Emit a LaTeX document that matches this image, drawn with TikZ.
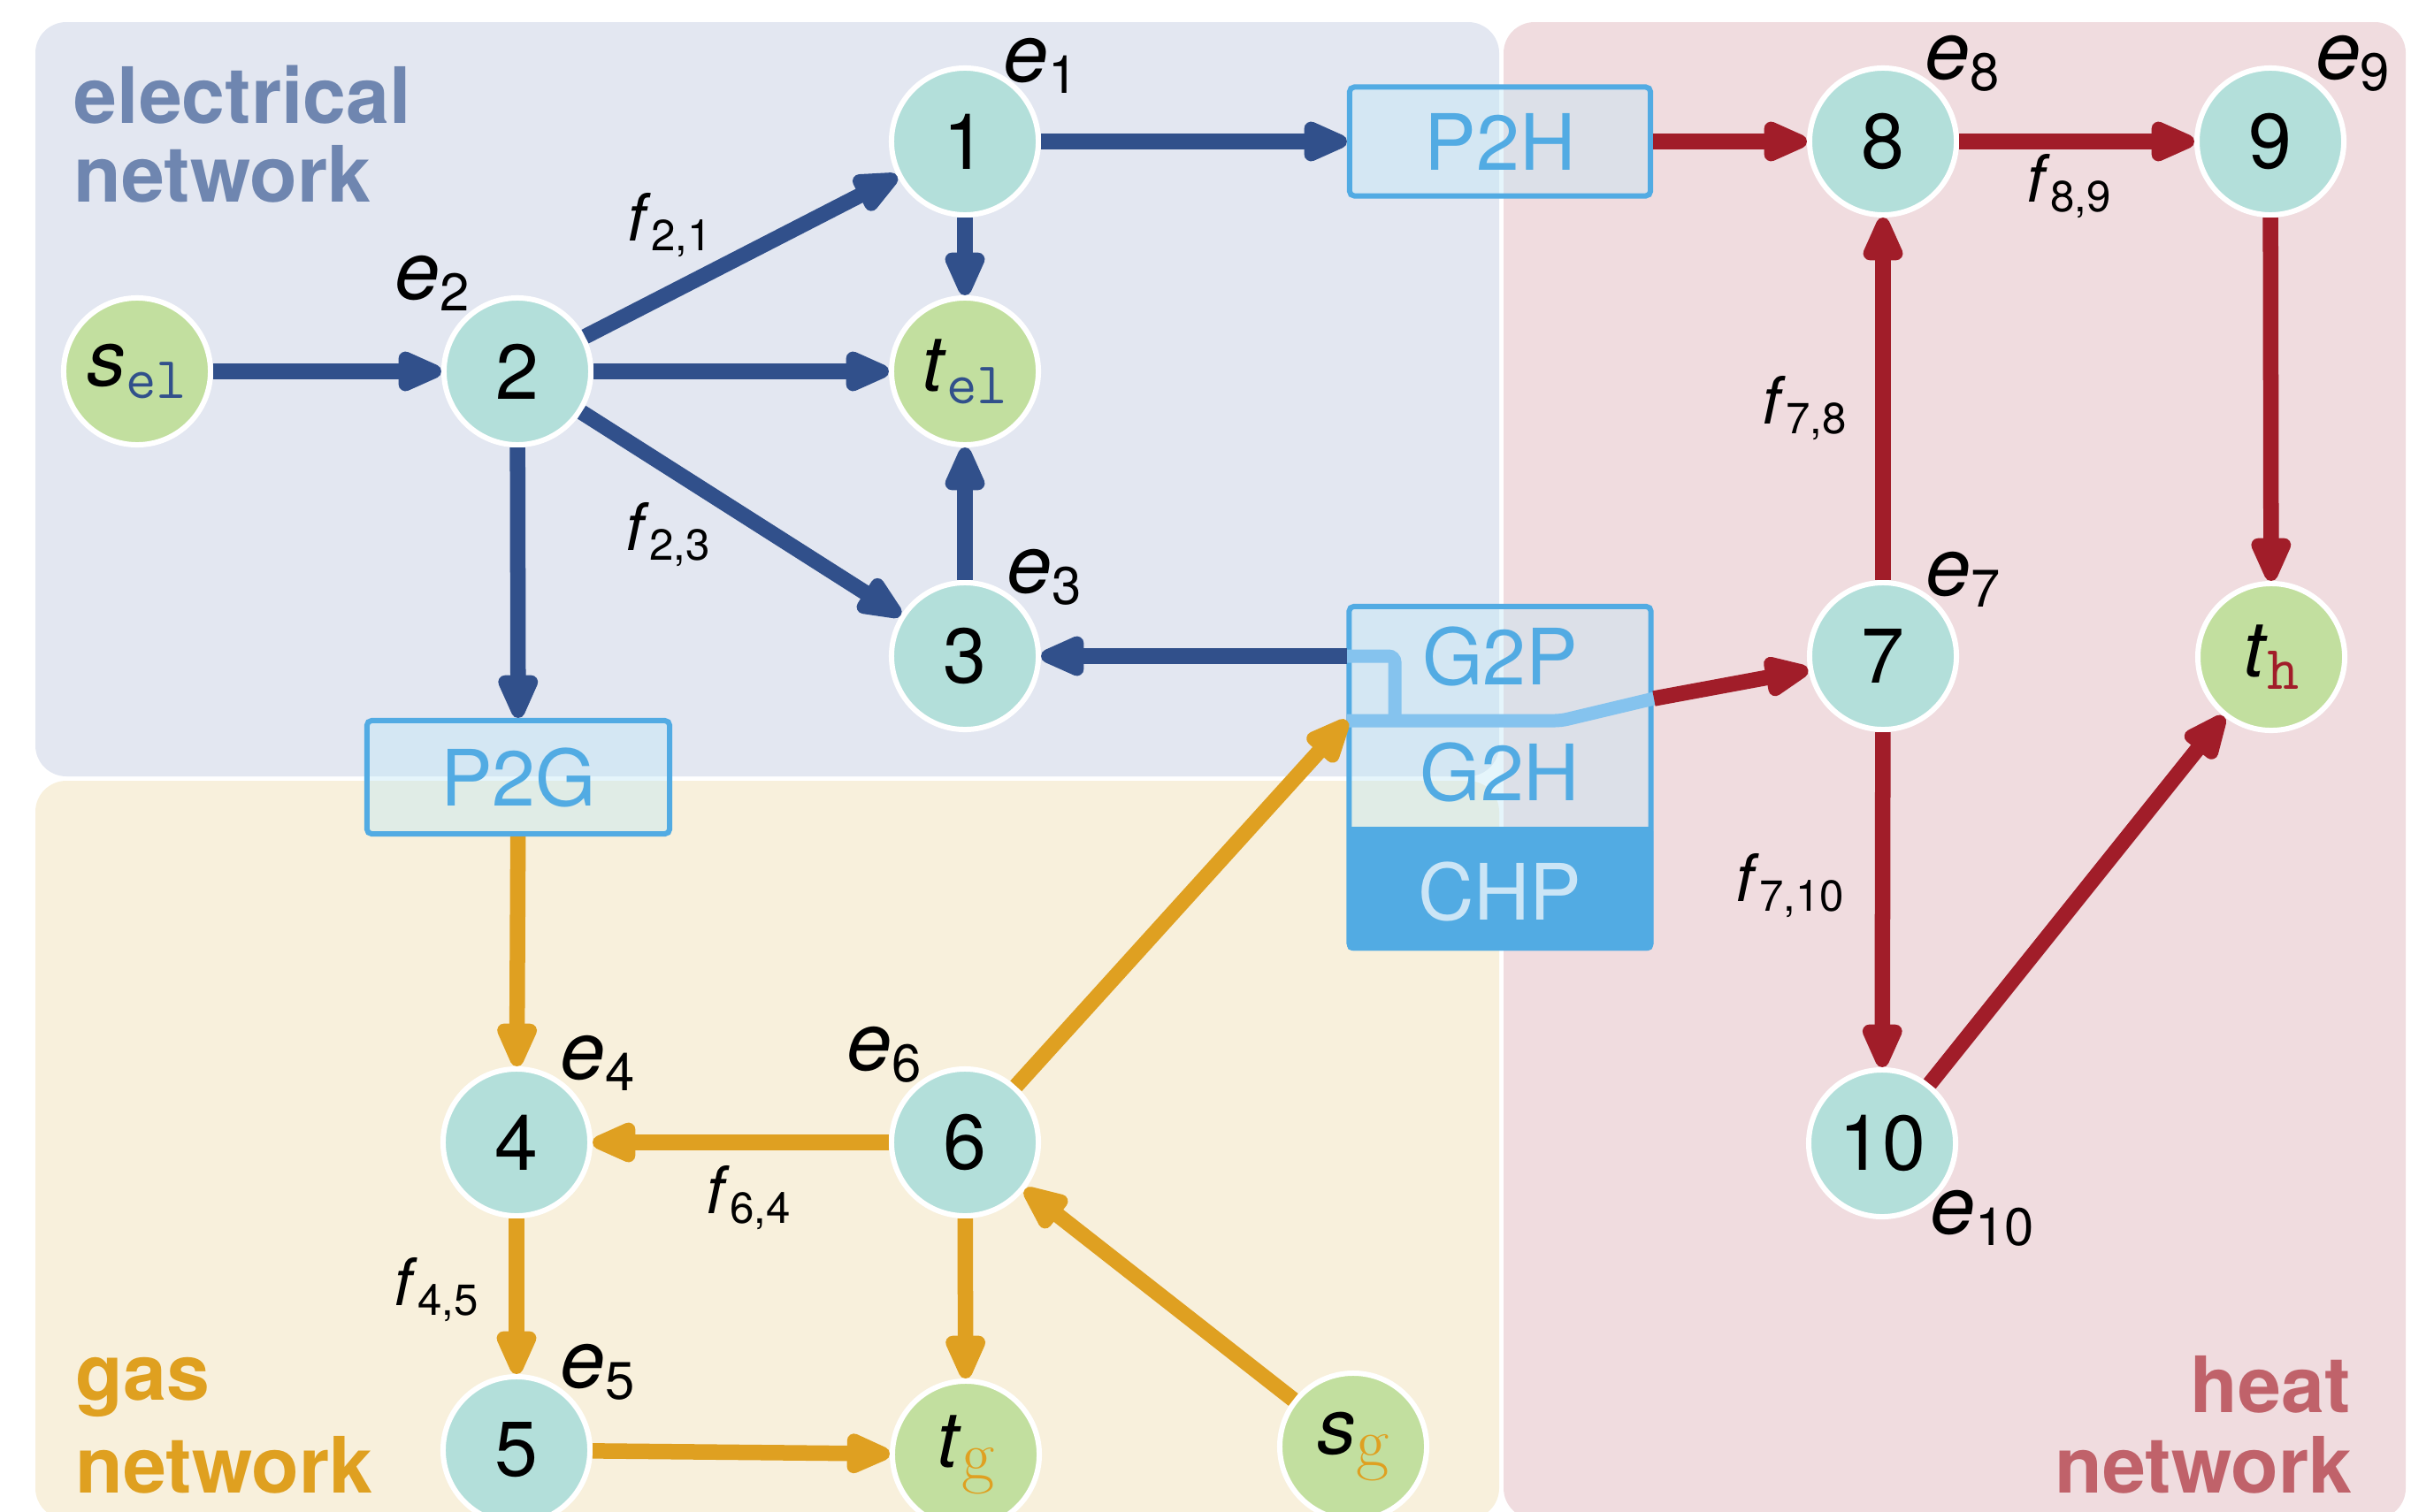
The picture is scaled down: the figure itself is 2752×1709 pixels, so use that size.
\documentclass[tikz,border=0pt]{standalone}
\usepackage{fontspec}
\usetikzlibrary{arrows.meta}
\newfontfamily\hv{TeX Gyre Heros}
\definecolor{elbg}{RGB}{227,231,241}
\definecolor{gasbg}{RGB}{248,240,220}
\definecolor{heatbg}{RGB}{240,220,223}
\definecolor{eltxt}{RGB}{111,134,176}
\definecolor{gastxt}{RGB}{223,160,32}
\definecolor{heattxt}{RGB}{192,98,106}
\definecolor{elblue}{RGB}{49,80,139}
\definecolor{gasor}{RGB}{223,160,33}
\definecolor{heatred}{RGB}{161,29,41}
\definecolor{nodeteal}{RGB}{179,223,218}
\definecolor{nodegreen}{RGB}{194,223,159}
\definecolor{boxblue}{RGB}{82,171,227}
\definecolor{boxfill}{RGB}{190,231,246}
\definecolor{paleblue}{RGB}{133,195,238}
\definecolor{chptxt}{RGB}{203,229,246}
\newcommand{\fsz}[1]{\fontsize{#1}{#1}\selectfont}
\newcommand{\elab}[2]{\textit{#1}\raisebox{-0.13cm}{\fsz{17}#2}}
\newcommand{\flab}[2]{\textit{#1}\raisebox{-0.11cm}{\fsz{14}#2}}
\newcommand{\termlab}[3]{\textit{#1}\raisebox{-0.14cm}{\color{#2}#3}}
\begin{document}
\begin{tikzpicture}[x=0.01cm,y=-0.01cm,
  vtx/.style={circle,draw=white,line width=0.06cm,fill=nodeteal,minimum size=1.66cm,inner sep=0pt,font=\hv\fsz{25}},
  termv/.style={vtx,fill=nodegreen},
  conv/.style={draw=boxblue,line width=0.06cm,fill=boxfill,fill opacity=0.4,text opacity=1,text=boxblue,rounded corners=1.5pt,inner sep=0pt,font=\hv\fsz{25}},
  convtxt/.style={inner sep=0pt,font=\hv\fsz{25},text=boxblue},
  arr/.style={line width=0.175cm,-{Triangle[length=0.62cm,width=0.48cm,round]}},
  barr/.style={arr,draw=elblue},
  oarr/.style={arr,draw=gasor},
  rarr/.style={arr,draw=heatred},
  paleline/.style={draw=paleblue,line width=0.15cm,rounded corners=2pt},
  elbl/.style={inner sep=0pt,font=\hv\fsz{26}},
  flbl/.style={inner sep=0pt,font=\hv\fsz{21}},
  netlbl/.style={inner sep=0pt,font=\hv\bfseries\fsz{25}},
]
\useasboundingbox (0,0) rectangle (2752,1709);
% regions
\begin{scope}
\clip (0,0) rectangle (2752,1709);
\fill[elbg,rounded corners=0.35cm] (40,25) rectangle (1695,878);
\fill[gasbg,rounded corners=0.35cm] (40,883) rectangle (1695,1718);
\fill[heatbg,rounded corners=0.35cm] (1700,25) rectangle (2720,1718);
\end{scope}
% region labels
\node[netlbl,text=eltxt,anchor=base west] (ell1) at (83,139) {electrical};
\node[netlbl,text=eltxt,anchor=base west] (ell2) at (83,228) {network};
\node[netlbl,text=gastxt,anchor=base west] (gasl1) at (85,1583) {gas};
\node[netlbl,text=gastxt,anchor=base west] (gasl2) at (85,1688) {network};
\node[netlbl,text=heattxt,anchor=base east] (heatl1) at (2658,1597) {heat};
\node[netlbl,text=heattxt,anchor=base east] (heatl2) at (2660,1688) {network};
% vertices
\node[termv] (sel) at (155,420) {\termlab{s}{elblue}{\ttfamily\fsz{19}el}};
\node[vtx] (n2) at (585,420) {2};
\node[vtx] (n1) at (1091,160) {1};
\node[termv] (tel) at (1091,420) {\termlab{t}{elblue}{\ttfamily\fsz{19}el}};
\node[vtx] (n3) at (1091,742) {3};
\node[vtx] (n8) at (2129,160) {8};
\node[vtx] (n9) at (2567,160) {9};
\node[vtx] (n7) at (2129,742) {7};
\node[termv] (th) at (2568,743) {\termlab{t}{heatred}{\ttfamily\fsz{20}h}};
\node[vtx] (n10) at (2128,1293) {10};
\node[vtx] (n4) at (584,1292) {4};
\node[vtx] (n6) at (1091,1292) {6};
\node[vtx] (n5) at (584,1640) {5};
\node[termv] (tg) at (1092,1645) {\termlab{t}{gasor}{\rmfamily\fsz{23}g}};
\node[termv] (sg) at (1530,1636) {\termlab{s}{gasor}{\rmfamily\fsz{23}g}};
% converters
\node[conv,minimum width=3.40cm,minimum height=1.23cm] (p2h) at (1696,160) {P2H};
\node[conv,minimum width=3.42cm,minimum height=1.28cm] (p2g) at (586,879) {P2G};
\node[conv,minimum width=3.41cm,minimum height=3.86cm] (chp) at (1696,879) {};
\fill[boxblue,rounded corners=1.5pt] (1523,935) rectangle (1869,1075);
\coordinate (g2pin) at (1523,742);
\coordinate (g2pjoint) at (1577,742);
\coordinate (g2pdrop) at (1577,815);
\coordinate (gasin) at (1523,815);
\coordinate (bend) at (1765,815);
\coordinate (g2hout) at (1870,790);
\draw[paleline] (gasin) -- (bend) -- (g2hout);
\draw[paleline] (g2pin) -- (g2pjoint) -- (g2pdrop);
\node[convtxt] (g2p) at (1696,742) {G2P};
\node[convtxt] (g2h) at (1696,873) {G2H};
\node[convtxt,text=chptxt] (chpt) at (1696,1008) {CHP};
% electrical connectors
\draw[barr] (sel) -- (n2);
\draw[barr] (n2) -- (n1);
\draw[barr] (n2) -- (tel);
\draw[barr] (n2) -- (n3);
\draw[barr] (n1) -- (tel);
\draw[barr] (n3) -- (tel);
\draw[barr] (n1) -- (p2h);
\draw[barr] (n2) -- (p2g);
\draw[barr] (g2pin) -- (n3);
% gas connectors
\draw[oarr] (p2g) -- (n4);
\draw[oarr] (n6) -- (n4);
\draw[oarr] (n4) -- (n5);
\draw[oarr] (n5) -- (tg);
\draw[oarr] (n6) -- (tg);
\draw[oarr] (sg) -- (n6);
\draw[oarr] (n6) -- (gasin);
% heat connectors
\draw[rarr] (p2h) -- (n8);
\draw[rarr] (n8) -- (n9);
\draw[rarr] (n9) -- (th);
\draw[rarr] (n7) -- (n8);
\draw[rarr] (n7) -- (n10);
\draw[rarr] (n10) -- (th);
\draw[rarr] (g2hout) -- (n7);
% vertex labels
\node[elbl] (le1) at (1177,74) {\elab{e}{1}};
\node[elbl] (le2) at (489,320) {\elab{e}{2}};
\node[elbl] (le3) at (1181,653) {\elab{e}{3}};
\node[elbl] (le4) at (676,1202) {\elab{e}{4}};
\node[elbl] (le5) at (676,1552) {\elab{e}{5}};
\node[elbl] (le6) at (1000,1193) {\elab{e}{6}};
\node[elbl] (le7) at (2220,655) {\elab{e}{7}};
\node[elbl] (le8) at (2219,72) {\elab{e}{8}};
\node[elbl] (le9) at (2660,72) {\elab{e}{9}};
\node[elbl] (le10) at (2241,1378) {\elab{e}{10}};
% flow labels
\node[flbl] (f21) at (757,255) {\flab{f}{2,1}};
\node[flbl] (f23) at (755,605) {\flab{f}{2,3}};
\node[flbl] (f89) at (2339,211) {\flab{f}{8,9}};
\node[flbl] (f78) at (2040,462) {\flab{f}{7,8}};
\node[flbl] (f710) at (2024,1002) {\flab{f}{7,10}};
\node[flbl] (f64) at (846,1355) {\flab{f}{6,4}};
\node[flbl] (f45) at (493,1459) {\flab{f}{4,5}};
\end{tikzpicture}
\end{document}
